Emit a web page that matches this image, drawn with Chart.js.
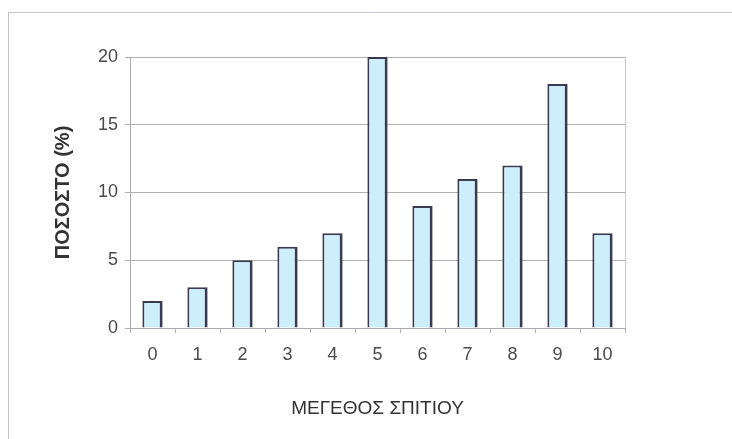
<!DOCTYPE html>
<html>
<head>
<meta charset="utf-8">
<script src="https://cdn.jsdelivr.net/npm/chart.js@4"></script>
<style>
  html, body { margin: 0; padding: 0; background: #ffffff; }
  #wrap { position: relative; width: 732px; height: 439px; }
</style>
</head>
<body>
<div id="wrap"><canvas id="c" width="732" height="439"></canvas></div>
<script>
// House size categories and share of households (%)
const categories = ['0', '1', '2', '3', '4', '5', '6', '7', '8', '9', '10'];
const percentages = [2, 3, 5, 6, 7, 20, 9, 11, 12, 18, 7];
const yTicks = [0, 5, 10, 15, 20];
const xTitle = 'ΜΕΓΕΘΟΣ ΣΠΙΤΙΟΥ';
const yTitle = 'ΠΟΣΟΣΤΟ (%)';

// Outer frame and right edge of the plot area
const framePlugin = {
  id: 'frame',
  beforeDraw(chart) {
    const ctx = chart.ctx;
    ctx.save();
    ctx.fillStyle = '#ffffff';
    ctx.fillRect(0, 0, chart.width, chart.height);
    ctx.strokeStyle = '#c4c4cc';
    ctx.lineWidth = 1;
    ctx.beginPath();
    ctx.moveTo(8.5, chart.height);
    ctx.lineTo(8.5, 12.5);
    ctx.lineTo(chart.width, 12.5);
    ctx.stroke();
    ctx.restore();
  },
  afterDraw(chart) {
    const a = chart.chartArea;
    const ctx = chart.ctx;
    ctx.save();
    ctx.strokeStyle = '#c8c8d4';
    ctx.lineWidth = 1;
    ctx.beginPath();
    ctx.moveTo(Math.round(a.right) + 0.5, a.top);
    ctx.lineTo(Math.round(a.right) + 0.5, a.bottom);
    ctx.stroke();
    ctx.restore();
  }
};

new Chart(document.getElementById('c'), {
  type: 'bar',
  data: {
    labels: categories,
    datasets: [{
      data: percentages,
      backgroundColor: '#cdeefb',
      borderColor: '#3a3a50',
      borderWidth: { top: 2, left: 2, right: 3, bottom: 0 },
      barPercentage: 0.45,
      categoryPercentage: 1.0
    }]
  },
  options: {
    responsive: false,
    animation: false,
    devicePixelRatio: 1,
    layout: { padding: { left: 47, top: 57, right: 107, bottom: 15 } },
    plugins: { legend: { display: false }, tooltip: { enabled: false } },
    scales: {
      x: {
        afterFit(scale) { scale.height = 96; },
        grid: { drawOnChartArea: false, drawTicks: true, tickLength: 5, color: '#b0b0b8', offset: true },
        border: { color: '#a8a8b0', width: 1 },
        ticks: { color: '#4a4a4a', padding: 11, font: { family: 'Liberation Sans', size: 18 } },
        title: {
          display: true, text: xTitle, color: '#333333',
          padding: { top: 4, bottom: 4 },
          font: { family: 'Liberation Sans', size: 19 }
        }
      },
      y: {
        min: 0, max: 20,
        afterFit(scale) { scale.width = 83; },
        afterBuildTicks(scale) { scale.ticks = yTicks.map(v => ({ value: v })); },
        grid: { color: '#b0b0b0', lineWidth: 1, tickLength: 5 },
        border: { color: '#a8a8b8', width: 1 },
        ticks: { color: '#4a4a4a', padding: 7, font: { family: 'Liberation Sans', size: 18 } },
        title: {
          display: true, text: yTitle, color: '#333333',
          padding: { top: 4, bottom: 4 },
          font: { family: 'Liberation Sans', size: 20, weight: 'bold' }
        }
      }
    }
  },
  plugins: [framePlugin]
});
</script>
</body>
</html>
